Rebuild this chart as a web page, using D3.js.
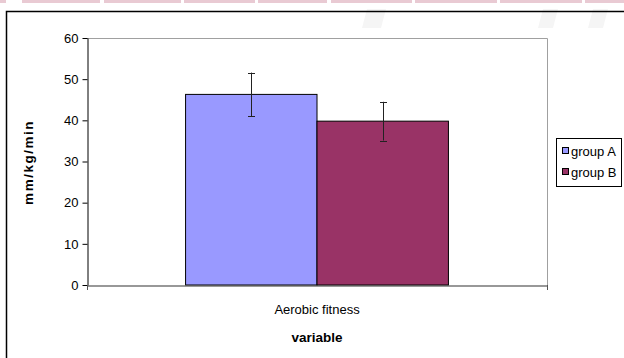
<!DOCTYPE html>
<html><head><meta charset="utf-8">
<script src="https://cdn.jsdelivr.net/npm/d3@7"></script>
<style>
html,body{margin:0;padding:0;background:#fff;}
svg{display:block;font-family:"Liberation Sans",Arial,sans-serif;}
</style></head>
<body><svg id="c" width="624" height="358"></svg>
<script>
const categories = ["Aerobic fitness"];
const groups = ["group A", "group B"];
const groupAValues = [46.3];
const groupBValues = [39.8];
const groupAErrors = [5.3];
const groupBErrors = [4.7];
const yTicks = [0, 10, 20, 30, 40, 50, 60];
const colors = ["#9999FF", "#993366"];

const svg = d3.select("#c");

// top decorative strip
const strip = [[0,6],[22,100],[104,181],[184,255],[258,327],[331,412],[415,497],[500,582],[585,624]];
svg.selectAll("rect.strip").data(strip).enter().append("rect")
  .attr("x", d => d[0]).attr("y", 0).attr("width", d => d[1]-d[0]).attr("height", 3)
  .attr("fill", "#e9cad3");
// faint watermark shapes
const marks = [[362,386],[538,558],[588,608]];
svg.selectAll("path.wm").data(marks).enter().append("path")
  .attr("d", d => `M${d[0]+5},9 L${d[1]},9 L${d[1]-5},28 L${d[0]},28 Z`)
  .attr("fill", "#f5f5f5");

// outer chart border
svg.append("rect").attr("x", 6.5).attr("y", 11.5).attr("width", 640).attr("height", 360)
  .attr("fill", "none").attr("stroke", "#000").attr("stroke-width", 1.5);

const L = 87, R = 547, T = 38, B = 285;
const y = d3.scaleLinear().domain([0, 60]).range([B, T]);
const x = d3.scaleBand().domain(categories).range([L, R]).paddingInner(0).paddingOuter(0);
const groupFrac = 2 / (2 + 1.5);

// plot frame top/right
svg.append("path").attr("d", `M${L},${T+0.5} H${R+0.5} V${B}`)
  .attr("fill", "none").attr("stroke", "#a0a0a0").attr("stroke-width", 1);

const data = categories.map((c, i) => ({
  cat: c,
  vals: [
    {g: groups[0], v: groupAValues[i], e: groupAErrors[i], color: colors[0]},
    {g: groups[1], v: groupBValues[i], e: groupBErrors[i], color: colors[1]}
  ]
}));

data.forEach(d => {
  const bw = x.bandwidth() * groupFrac;
  const cx = x(d.cat) + x.bandwidth() / 2;
  const sub = d3.scaleBand().domain(groups).range([cx - bw/2, cx + bw/2]);
  const g = svg.append("g");
  g.selectAll("rect").data(d.vals).enter().append("rect")
    .attr("x", v => sub(v.g)).attr("y", v => y(v.v))
    .attr("width", sub.bandwidth()).attr("height", v => B - y(v.v))
    .attr("fill", v => v.color).attr("stroke", "#000").attr("stroke-width", 1);
  const eb = g.selectAll("g.err").data(d.vals).enter().append("g")
    .attr("stroke", "#222").attr("stroke-width", 1);
  eb.append("line").attr("x1", v => Math.round(sub(v.g) + sub.bandwidth()/2) + 0.5)
    .attr("x2", v => Math.round(sub(v.g) + sub.bandwidth()/2) + 0.5)
    .attr("y1", v => y(v.v + v.e)).attr("y2", v => y(v.v - v.e));
  [1, -1].forEach(s => {
    eb.append("line")
      .attr("x1", v => Math.round(sub(v.g) + sub.bandwidth()/2) - 3)
      .attr("x2", v => Math.round(sub(v.g) + sub.bandwidth()/2) + 4)
      .attr("y1", v => Math.round(y(v.v + s*v.e)) + 0.5)
      .attr("y2", v => Math.round(y(v.v + s*v.e)) + 0.5);
  });
});

// y axis
const yAxis = d3.axisLeft(y).tickValues(yTicks).tickSize(5).tickSizeOuter(0).tickPadding(4);
const ya = svg.append("g").attr("transform", `translate(${L+0.5},0)`).call(yAxis);
ya.select(".domain").attr("stroke", "#000");
ya.selectAll(".tick line").attr("stroke", "#000");
ya.selectAll(".tick text").attr("font-size", 13).attr("fill", "#000")
  .attr("font-family", "Liberation Sans, Arial, sans-serif");

// x axis
const xAxis = d3.axisBottom(x).tickSize(0).tickPadding(19);
const xa = svg.append("g").attr("transform", `translate(0,${B+0.5})`).call(xAxis);
xa.select(".domain").attr("stroke", "#333").attr("stroke-width", 1.2);
xa.selectAll(".tick text").attr("font-size", 13).attr("fill", "#000")
  .attr("font-family", "Liberation Sans, Arial, sans-serif");
// category boundary ticks
const edges = [x(categories[0]), x(categories[categories.length-1]) + x.bandwidth()];
svg.selectAll("line.edge").data(edges).enter().append("line")
  .attr("x1", d => d + 0.5).attr("x2", d => d + 0.5)
  .attr("y1", B).attr("y2", B + 5).attr("stroke", "#555");

// axis titles
svg.append("text").attr("x", x(categories[0]) + x.bandwidth()/2).attr("y", 341.5)
  .attr("text-anchor", "middle").attr("font-size", 13.5).attr("font-weight", "bold")
  .text("variable");
svg.append("text").attr("transform", `translate(33,${(T+B)/2 + 1}) rotate(-90)`)
  .attr("text-anchor", "middle").attr("font-size", 13.5).attr("font-weight", "bold")
  .attr("letter-spacing", 1.5).text("mm/kg/min");

// legend
const lg = svg.append("g");
lg.append("rect").attr("x", 556.5).attr("y", 138.5).attr("width", 65).attr("height", 48)
  .attr("fill", "#fff").attr("stroke", "#000");
groups.forEach((gname, i) => {
  const cy = 151 + i * 21;
  lg.append("rect").attr("x", 562.5).attr("y", cy - 3.5).attr("width", 6).attr("height", 6)
    .attr("fill", colors[i]).attr("stroke", "#000");
  lg.append("text").attr("x", 571).attr("y", cy + 4.5).attr("font-size", 13).text(gname);
});
</script></body></html>
